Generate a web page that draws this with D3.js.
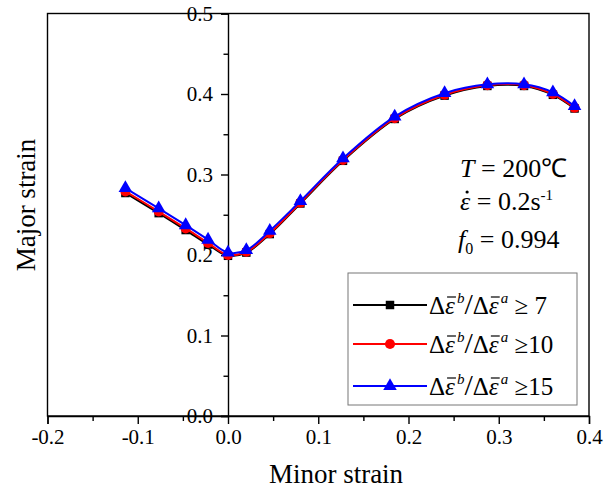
<!DOCTYPE html>
<html>
<head>
  <meta charset="utf-8" />
  <title>Major vs minor strain</title>
  <style type="text/css">
    body { margin: 0; background: #fff; }
    svg text { font-family: 'Liberation Serif', 'Times New Roman', serif; fill: #000; }
    .axis path, .axis line { stroke: #000; stroke-width: 1.4; }
  </style>
</head>
<body>
  <div id="chart"></div>

  <script src="https://cdnjs.cloudflare.com/ajax/libs/d3/7.8.5/d3.min.js"></script>
  <script>
  // values
  var minorStrain = [-0.1137, -0.0768, -0.0469, -0.0221, 0.0, 0.0203, 0.0463, 0.0802, 0.1274, 0.1847, 0.240, 0.2874, 0.328, 0.360, 0.384];
  var ratio7  = [0.277, 0.252, 0.231, 0.213, 0.199, 0.203, 0.226, 0.264, 0.317, 0.369, 0.398, 0.410, 0.410, 0.399, 0.382];
  var ratio10 = [0.279, 0.254, 0.233, 0.215, 0.200, 0.204, 0.227, 0.265, 0.318, 0.370, 0.399, 0.411, 0.411, 0.400, 0.383];
  var ratio15 = [0.283, 0.258, 0.237, 0.219, 0.203, 0.206, 0.230, 0.267, 0.320, 0.372, 0.401, 0.412, 0.412, 0.402, 0.385];
  var seriesLimits = [' 7', '10', '15'];
  var xTicks = [-0.2, -0.1, 0.0, 0.1, 0.2, 0.3, 0.4];
  var xMinor = [-0.15, -0.05, 0.05, 0.15, 0.25, 0.35];
  var yTicks = [0.0, 0.1, 0.2, 0.3, 0.4, 0.5];
  var yMinor = [0.05, 0.15, 0.25, 0.35, 0.45];

  var W = 605, H = 489;
  var margin = {top: 13.5, right: 16, bottom: 73, left: 47.5};
  var serif = "'Liberation Serif', 'Times New Roman', serif";

  var svg = d3.select('#chart').append('svg').attr('width', W).attr('height', H);

  var x = d3.scaleLinear().domain([-0.2, 0.4]).range([margin.left, W - margin.right]);
  var y = d3.scaleLinear().domain([0, 0.5]).range([H - margin.bottom, margin.top]);

  // frame
  svg.append('rect')
    .attr('x', x(-0.2)).attr('y', y(0.5))
    .attr('width', x(0.4) - x(-0.2)).attr('height', y(0) - y(0.5))
    .attr('fill', 'none').attr('stroke', '#000').attr('stroke-width', 1.4);

  var fmt = function (d) { return d.toFixed(1); };

  // x axis
  svg.append('g').attr('class', 'axis')
    .attr('transform', 'translate(0,' + y(0) + ')')
    .call(d3.axisBottom(x).tickValues(xTicks).tickFormat(fmt).tickSize(8).tickPadding(5));
  svg.append('g').attr('class', 'axis')
    .attr('transform', 'translate(0,' + y(0) + ')')
    .call(d3.axisBottom(x).tickValues(xMinor).tickFormat('').tickSize(5))
    .select('.domain').remove();

  // y axis sits on minor strain = 0
  svg.append('g').attr('class', 'axis')
    .attr('transform', 'translate(' + x(0) + ',0)')
    .call(d3.axisLeft(y).tickValues(yTicks).tickFormat(fmt).tickSize(7).tickPadding(8));
  svg.append('g').attr('class', 'axis')
    .attr('transform', 'translate(' + x(0) + ',0)')
    .call(d3.axisLeft(y).tickValues(yMinor).tickFormat('').tickSize(4.5))
    .select('.domain').remove();
  svg.selectAll('.axis').attr('font-family', serif).attr('font-size', 21);

  // axis titles
  svg.append('text').attr('x', 336).attr('y', 483)
    .attr('text-anchor', 'middle').attr('font-size', 27).text('Minor strain');
  svg.append('text').attr('transform', 'translate(35,205) rotate(-90)')
    .attr('text-anchor', 'middle').attr('font-size', 27).text('Major strain');

  // series
  var series = [
    {values: ratio7,  color: '#000', shape: d3.symbolSquare,   size: 72},
    {values: ratio10, color: '#f00', shape: d3.symbolCircle,   size: 80},
    {values: ratio15, color: '#00f', shape: d3.symbolTriangle, size: 80}
  ];

  var line = d3.line()
    .x(function (d) { return x(d[0]); })
    .y(function (d) { return y(d[1]); })
    .curve(d3.curveCatmullRom);

  series.forEach(function (s) {
    var pts = minorStrain.map(function (v, i) { return [v, s.values[i]]; });
    svg.append('path').datum(pts)
      .attr('d', line).attr('fill', 'none')
      .attr('stroke', s.color).attr('stroke-width', 2);
    svg.append('g').selectAll('path').data(pts).enter().append('path')
      .attr('transform', function (d) { return 'translate(' + x(d[0]) + ',' + y(d[1]) + ')'; })
      .attr('d', d3.symbol().type(s.shape).size(s.size))
      .attr('fill', s.color);
  });

  // condition notes
  var t1 = svg.append('text').attr('x', 460).attr('y', 177).attr('font-size', 26);
  t1.append('tspan').attr('font-style', 'italic').text('T');
  t1.append('tspan').text(' = 200\u2103');

  var t2 = svg.append('text').attr('x', 460).attr('y', 210).attr('font-size', 26);
  t2.append('tspan').attr('font-style', 'italic').text('\u03b5');
  t2.append('tspan').text(' = 0.2s');
  t2.append('tspan').attr('font-size', 15).attr('dy', -10).text('-1');
  // dot over epsilon
  var e0 = t2.node().getStartPositionOfChar(0), e1 = t2.node().getEndPositionOfChar(0);
  svg.append('circle').attr('cx', (e0.x + e1.x) / 2 + 2).attr('cy', 210 - 18).attr('r', 1.6).attr('fill', '#000');

  var t3 = svg.append('text').attr('x', 458).attr('y', 248).attr('font-size', 26);
  t3.append('tspan').attr('font-style', 'italic').text('f');
  t3.append('tspan').attr('font-size', 16).attr('dy', 6).text('0');
  t3.append('tspan').attr('dy', -6).text(' = 0.994');

  // legend
  svg.append('rect').attr('x', 348).attr('y', 273).attr('width', 229).attr('height', 132)
    .attr('fill', '#fff').attr('stroke', '#777').attr('stroke-width', 1);

  var rowY = [305, 344, 386];
  series.forEach(function (s, i) {
    var g = svg.append('g').attr('transform', 'translate(0,' + rowY[i] + ')');
    g.append('line').attr('x1', 353).attr('x2', 427).attr('y1', 0).attr('y2', 0)
      .attr('stroke', s.color).attr('stroke-width', 2);
    g.append('path').attr('transform', 'translate(390,0)')
      .attr('d', d3.symbol().type(s.shape).size(s.size)).attr('fill', s.color);
    var t = g.append('text').attr('x', 429).attr('y', 9).attr('font-size', 25);
    t.append('tspan').text('\u0394');
    t.append('tspan').attr('font-style', 'italic').text('\u03b5');
    t.append('tspan').attr('font-style', 'italic').attr('font-size', 15).attr('dx', 2).attr('dy', -11).text('b');
    t.append('tspan').attr('font-size', 30).attr('dy', 11).text('/');
    t.append('tspan').text('\u0394');
    t.append('tspan').attr('font-style', 'italic').text('\u03b5');
    t.append('tspan').attr('font-style', 'italic').attr('font-size', 15).attr('dx', 2).attr('dy', -11).text('a');
    t.append('tspan').attr('dy', 11).text(' \u2265' + seriesLimits[i]);
    // bars over the two epsilons (chars 1 and 5)
    [1, 5].forEach(function (c) {
      var p0 = t.node().getStartPositionOfChar(c), p1 = t.node().getEndPositionOfChar(c);
      g.append('line').attr('x1', p0.x + 2).attr('x2', p1.x + 1)
        .attr('y1', -8).attr('y2', -8).attr('stroke', '#000').attr('stroke-width', 1.2);
    });
  });
  </script>
</body>
</html>
